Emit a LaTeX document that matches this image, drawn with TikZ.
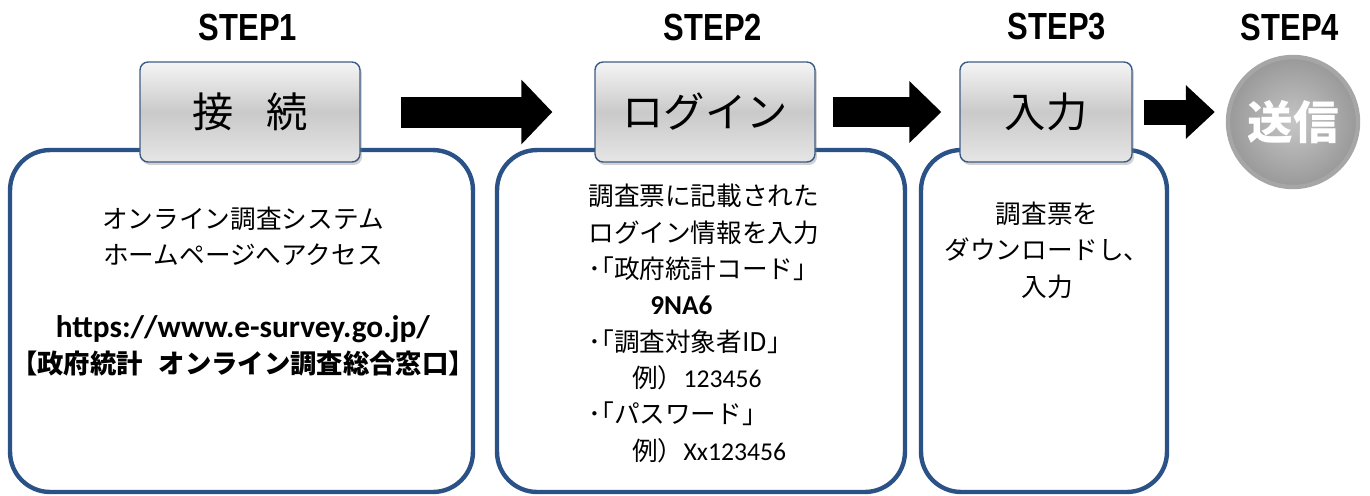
\documentclass[tikz,border=0pt]{standalone}
\usepackage{fontspec}
\setmainfont{Carlito}
\newfontfamily\jpfont{Noto Sans CJK JP}
\newfontfamily\stepfont{Liberation Sans}
\usetikzlibrary{positioning,shapes,arrows.meta,shadows}
\definecolor{panelblue}{HTML}{2B5287}
\definecolor{btnedge}{HTML}{3D5C85}
\newcommand{\jp}[1]{{\jpfont #1}}

\begin{document}
\begin{tikzpicture}[
  x=0.02cm, y=-0.02cm,
  every node/.style={inner sep=0pt, font=\fontsize{14.6}{20.7}\selectfont},
  steplabel/.style={font=\stepfont\bfseries\fontsize{21.5}{24}\selectfont},
  panel/.style={draw=panelblue, line width=2.5pt, rounded corners=0.8cm, fill=white, minimum height=6.84cm},
  button/.style={draw=btnedge, line width=0.8pt, rounded corners=0.16cm, minimum height=2cm,
    top color=gray!8, bottom color=gray!20, middle color=gray!42,
    drop shadow={opacity=0.35, shadow xshift=0.04cm, shadow yshift=-0.06cm},
    font=\jpfont\fontsize{23.5}{26}\selectfont},
  sendball/.style={circle, minimum size=2.6cm, draw=gray!70, line width=2.5pt, shading=radial,
    inner color=gray!45, outer color=gray!80, text=white, font=\jpfont\bfseries\fontsize{26}{28}\selectfont},
  fatarrow/.style={line width=0.62cm, -{Triangle[length=0.62cm, width=1.26cm]}}
]
\useasboundingbox (0,0) rectangle (1370,495);

% Step titles
\node[steplabel] (S1) at (248, 27) {\scalebox{0.82}[1]{STEP1}};
\node[steplabel] (S2) at (713, 27) {\scalebox{0.82}[1]{STEP2}};
\node[steplabel] (S3) at (1057, 27) {\scalebox{0.82}[1]{STEP3}};
\node[steplabel] (S4) at (1290, 27) {\scalebox{0.82}[1]{STEP4}};

% Panels
\node[panel, minimum width=9.26cm] (P1) at (241.5, 321) {};
\node[panel, minimum width=8.16cm] (P2) at (701, 321) {};
\node[panel, minimum width=4.92cm] (P3) at (1044, 321) {};

% Buttons
\node[button, minimum width=4.4cm] (B1) at (250, 112) {接\hspace{0.8em}続};
\node[button, minimum width=4.4cm] (B2) at (705, 112) {ログイン};
\node[button, minimum width=3.44cm] (B3) at (1046, 112) {入力};
\node[sendball] (B4) at (1293, 122) {送信};

% Panel texts
\node[align=center] (X1) at (243, 291.5) {\jp{オンライン調査システム}\\
  \jp{ホームページへアクセス}\\[20.7pt]
  {\fontsize{17.8}{20.7}\selectfont\textbf{https://www.e-survey.go.jp/}}\\
  {\fontsize{15}{20.7}\selectfont\jp{\bfseries 【政府統計\hspace{0.6em}オンライン調査総合窓口】}}};

\node[align=left, anchor=west] (X2) at (588, 323.5) {\jp{調査票に記載された}\\
  \jp{ログイン情報を入力}\\
  \jp{･｢政府統計コード｣}\\
  \hspace*{1.24cm}{\fontsize{15.5}{20.7}\selectfont\textbf{9NA6}}\\
  \jp{･｢調査対象者ID｣}\\
  \hspace*{0.88cm}\jp{例）}123456\\
  \jp{･｢パスワード｣}\\
  \hspace*{0.88cm}\jp{例）}Xx123456};

\node[align=center] (X3) at (1047, 250) {\jp{調査票を}\\
  \jp{ダウンロードし、}\\
  \jp{入力}};

% Arrows between steps
\draw[fatarrow, shorten <=0.8cm, shorten >=0.84cm] (B1.east) -- (B2.west);
\draw[fatarrow, line width=0.6cm, -{Triangle[length=0.64cm, width=1.2cm]}, shorten <=0.34cm, shorten >=0.36cm] (B2.east) -- (B3.west);
\draw[fatarrow, line width=0.5cm, -{Triangle[length=0.58cm, width=1.04cm]}, shorten <=0.22cm, shorten >=0.22cm] (B3.east) -- (B4.west |- B3.east);

\end{tikzpicture}
\end{document}
